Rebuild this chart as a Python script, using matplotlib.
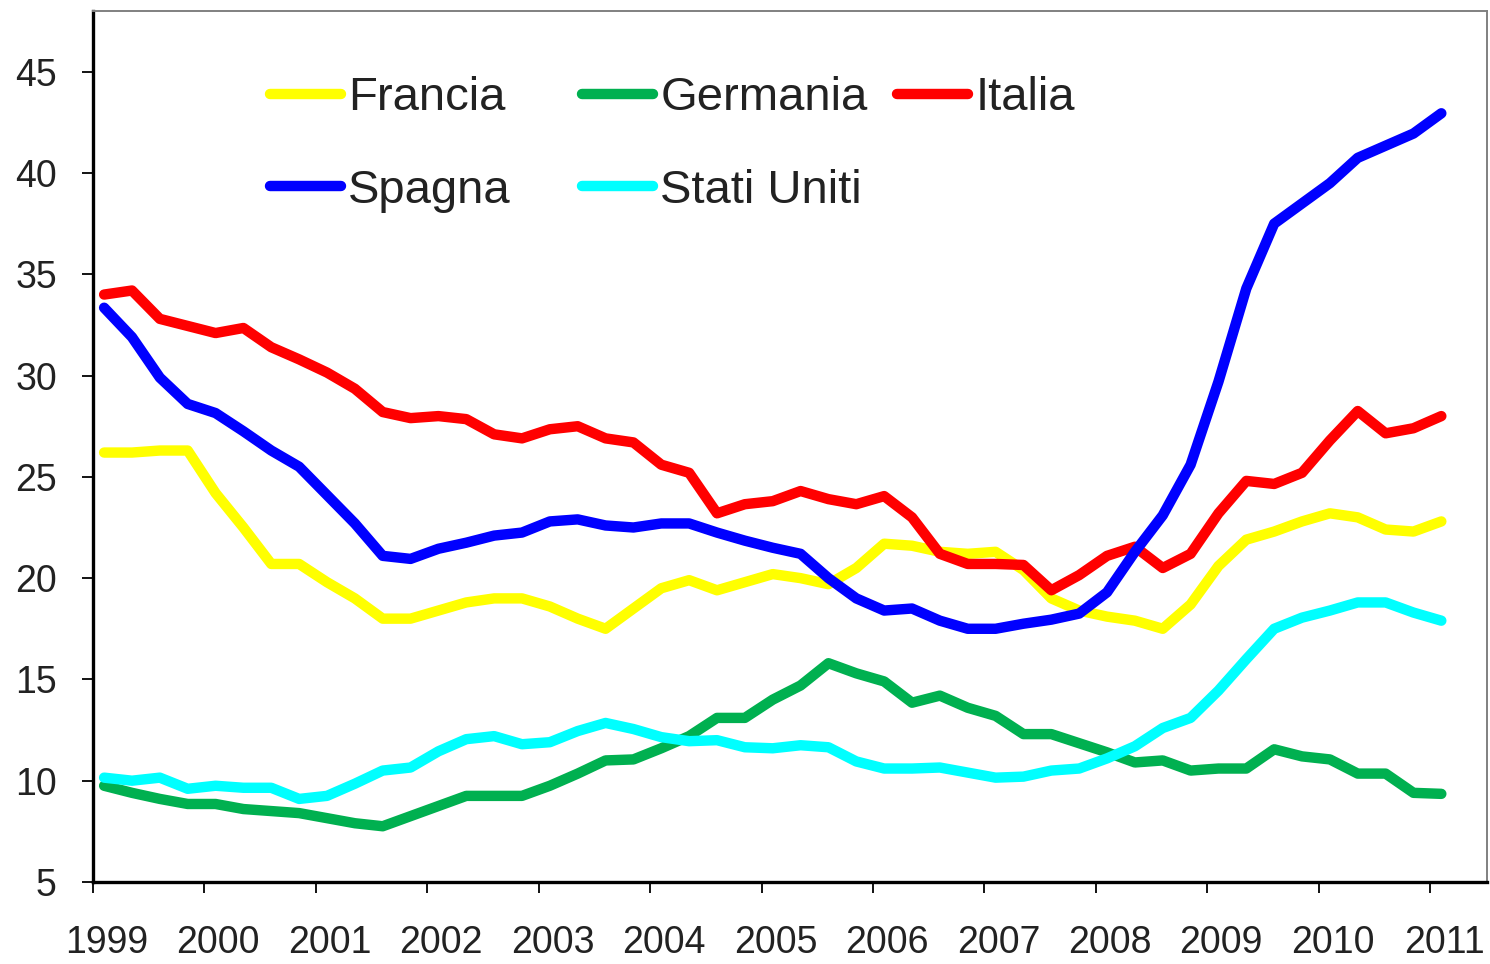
import numpy as np
import matplotlib.pyplot as plt
from matplotlib.legend import Legend

plt.rcParams['font.family'] = ['Liberation Sans', 'DejaVu Sans']

# Dati trimestrali 1999 Q1 - 2011 Q1
anni = list(range(1999, 2012))
trimestri = 1999.1 + 0.25 * np.arange(49)

francia = [26.2, 26.2, 26.3, 26.3, 24.2, 22.5, 20.7, 20.7, 19.8, 19.0, 18.0, 18.0, 18.4,
           18.8, 19.0, 19.0, 18.6, 18.0, 17.5, 18.5, 19.5, 19.9, 19.4, 19.8, 20.2,
           20.0, 19.7, 20.5, 21.7, 21.6, 21.3, 21.2, 21.3, 20.4, 19.0, 18.4, 18.1,
           17.9, 17.5, 18.7, 20.6, 21.9, 22.3, 22.8, 23.2, 23.0, 22.4, 22.3, 22.8]
germania = [9.75, 9.4, 9.1, 8.85, 8.85, 8.6, 8.5, 8.4, 8.15, 7.9, 7.75, 8.25, 8.75,
            9.25, 9.25, 9.25, 9.75, 10.35, 11.0, 11.05, 11.6, 12.2, 13.1, 13.1, 14.0,
            14.7, 15.8, 15.3, 14.9, 13.85, 14.2, 13.6, 13.2, 12.3, 12.3, 11.85, 11.4,
            10.9, 11.0, 10.5, 10.6, 10.6, 11.55, 11.2, 11.05, 10.35, 10.35, 9.4, 9.35]
italia = [34.0, 34.2, 32.8, 32.45, 32.1, 32.35, 31.4, 30.8, 30.15, 29.35, 28.2, 27.9, 28.0,
          27.85, 27.1, 26.9, 27.35, 27.5, 26.9, 26.7, 25.6, 25.2, 23.2, 23.65, 23.8,
          24.3, 23.9, 23.65, 24.05, 23.0, 21.2, 20.7, 20.7, 20.65, 19.4, 20.15, 21.1,
          21.55, 20.5, 21.2, 23.2, 24.8, 24.65, 25.2, 26.8, 28.25, 27.15, 27.4, 28.0]
spagna = [33.35, 31.9, 29.9, 28.6, 28.15, 27.25, 26.3, 25.5, 24.1, 22.7, 21.1, 20.95, 21.45,
          21.75, 22.1, 22.25, 22.8, 22.9, 22.6, 22.5, 22.7, 22.7, 22.25, 21.85, 21.5,
          21.2, 20.0, 19.0, 18.4, 18.5, 17.9, 17.5, 17.5, 17.75, 17.95, 18.25, 19.3,
          21.3, 23.1, 25.6, 29.7, 34.3, 37.5, 38.5, 39.5, 40.75, 41.35, 41.95, 42.95]
stati_uniti = [10.15, 10.0, 10.15, 9.6, 9.75, 9.65, 9.65, 9.1, 9.25, 9.85, 10.5, 10.65, 11.45,
               12.05, 12.2, 11.8, 11.9, 12.45, 12.85, 12.55, 12.15, 11.95, 12.0, 11.65, 11.6,
               11.75, 11.65, 10.95, 10.6, 10.6, 10.65, 10.4, 10.15, 10.2, 10.5, 10.6, 11.1,
               11.7, 12.6, 13.1, 14.45, 16.0, 17.5, 18.05, 18.4, 18.8, 18.8, 18.3, 17.9]

fig = plt.figure(figsize=(14.9, 9.64), dpi=100)
ax = fig.add_axes([0.0624, 0.0851, 0.9356, 0.9035])

stile = dict(lw=7.5, solid_capstyle='round', solid_joinstyle='round')
l_fr, = ax.plot(trimestri, francia, color='#FFFF00', label='Francia', **stile)
l_ge, = ax.plot(trimestri, germania, color='#00B050', label='Germania', **stile)
l_it, = ax.plot(trimestri, italia, color='#FF0000', label='Italia', **stile)
l_sp, = ax.plot(trimestri, spagna, color='#0000FF', label='Spagna', **stile)
l_us, = ax.plot(trimestri, stati_uniti, color='#00FFFF', label='Stati Uniti', **stile)

ax.set_xlim(1999, 2011.51)
ax.set_ylim(5, 48)

# assi
ax.set_yticks(range(5, 50, 5))
ax.set_xticks(anni)
ax.set_xticklabels([])
ax.set_xticks([a + 0.125 for a in anni], minor=True)
ax.set_xticklabels([str(a) for a in anni], minor=True)
ax.tick_params(axis='y', length=8, width=1.3, pad=18, labelsize=27, labelcolor='#222222')
ax.tick_params(axis='x', which='major', length=8, width=1.3, direction='out')
ax.tick_params(axis='x', which='minor', length=0, pad=31, labelsize=27, labelcolor='#222222')

for s in ['left', 'bottom']:
    ax.spines[s].set_linewidth(2.4)
    ax.spines[s].set_color('black')
for s in ['top', 'right']:
    ax.spines[s].set_linewidth(1.4)
    ax.spines[s].set_color('#808080')

# legenda in tre colonne
opts = dict(loc='upper left', frameon=False, fontsize=34, handlelength=1.5,
            handletextpad=0.15, labelspacing=1.03, borderpad=0, borderaxespad=0)
colonne = [([l_fr, l_sp], 0.127), ([l_ge, l_us], 0.351), ([l_it], 0.577)]
for linee, xpos in colonne:
    leg = Legend(ax, linee, [l.get_label() for l in linee],
                 bbox_to_anchor=(xpos, 0.925), **opts)
    for t in leg.get_texts():
        t.set_color('#222222')
    ax.add_artist(leg)

fig.savefig('out.png', dpi=100)
